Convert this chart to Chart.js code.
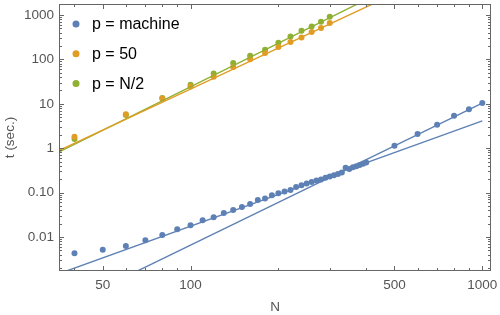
<!DOCTYPE html>
<html>
<head>
<meta charset="utf-8">
<script src="https://cdn.jsdelivr.net/npm/chart.js@4.4.0/dist/chart.umd.min.js"></script>
<style>
  html, body { margin: 0; padding: 0; background: #fff; }
  #wrap { width: 500px; height: 315px; }
</style>
</head>
<body>
<div id="wrap"><canvas id="chart" width="500" height="315"></canvas></div>
<script>
// timings
const machineN = [40, 50, 60, 70, 80, 90, 100, 110, 120, 130, 140, 150, 160, 170, 180, 190, 200,
  210, 220, 230, 240, 250, 260, 270, 280, 290, 300, 310, 320, 330, 340, 350, 360, 370, 380, 390, 400,
  500, 600, 700, 800, 900, 1000];
const machineT = [0.0043, 0.0051, 0.0062, 0.0084, 0.011, 0.0149, 0.0183, 0.0237, 0.0277, 0.0346,
  0.0404, 0.0473, 0.055, 0.068, 0.073, 0.087, 0.096, 0.105, 0.114, 0.134, 0.146, 0.159, 0.173,
  0.186, 0.196, 0.214, 0.229, 0.246, 0.263, 0.281, 0.363, 0.341, 0.369, 0.392, 0.420, 0.447, 0.478,
  1.13, 2.10, 3.36, 5.36, 7.59, 10.4];

const pN = [40, 60, 80, 100, 120, 140, 160, 180, 200, 220, 240, 260, 280, 300];
const p50T = [1.8, 5.8, 13.2, 24.5, 41, 68, 101, 139, 191, 248, 312, 418, 514, 663];
const pHalfT = [1.6, 5.6, 13.6, 26.8, 48, 83, 121, 166, 238, 330, 444, 556, 710, 920];

// fitted lines, end points
const machineFitAN = [60, 1000];
const machineFitAT = [0.00127, 10.4];
const machineFitBN = [35, 1000];
const machineFitBT = [0.00144, 4.13];
const p50FitN = [35, 450];
const p50FitT = [0.86, 2190];
const pHalfFitN = [35, 400];
const pHalfFitT = [0.79, 2230];

const xTicks = [50, 100, 500, 1000];
const yTicks = [0.01, 0.1, 1, 10, 100, 1000];
const yTickLabels = ["0.01", "0.10", "1", "10", "100", "1000"];

const BLUE = "#5E81B5", ORANGE = "#E19C24", GREEN = "#8FB032";
const FONT = "'Liberation Sans', Arial, sans-serif";

const pts = (xs, ys) => xs.map((x, i) => ({ x, y: ys[i] }));

function points(label, xs, ys, color) {
  return {
    label, data: pts(xs, ys), showLine: false, legend: true,
    pointRadius: 3, pointHoverRadius: 3, pointBackgroundColor: color, pointBorderWidth: 0,
    borderColor: color, backgroundColor: color
  };
}
function fit(xs, ys, color) {
  return {
    data: pts(xs, ys), showLine: true, pointRadius: 0, borderColor: color,
    borderWidth: 1.4, fill: false
  };
}

function noPad(s) {
  s.paddingTop = 0; s.paddingBottom = 0; s.paddingLeft = 0; s.paddingRight = 0;
}

const framePlugin = {
  id: "frame",
  afterDraw(chart) {
    const { ctx, chartArea: a, scales: { x, y } } = chart;
    ctx.save();
    ctx.strokeStyle = "#666";
    ctx.lineWidth = 1;
    ctx.strokeRect(Math.round(a.left) + 0.5, Math.round(a.top) + 0.5,
      Math.round(a.right - a.left) - 1, Math.round(a.bottom - a.top) - 1);
    ctx.beginPath();
    for (let k = 1; k <= 3; k++) {
      for (let d = 1; d <= 9; d++) {
        const v = d * Math.pow(10, k);
        if (v < x.min || v > x.max) continue;
        const len = (xTicks.includes(v) || d === 1) ? 5 : 3;
        const px = Math.round(x.getPixelForValue(v)) + 0.5;
        ctx.moveTo(px, a.bottom); ctx.lineTo(px, a.bottom - len);
        ctx.moveTo(px, a.top); ctx.lineTo(px, a.top + len);
      }
    }
    for (let k = -3; k <= 3; k++) {
      for (let d = 1; d <= 9; d++) {
        const v = d * Math.pow(10, k);
        if (v < y.min || v > y.max) continue;
        const len = d === 1 ? 5 : 3;
        const py = Math.round(y.getPixelForValue(v)) + 0.5;
        ctx.moveTo(a.left, py); ctx.lineTo(a.left + len, py);
        ctx.moveTo(a.right, py); ctx.lineTo(a.right - len, py);
      }
    }
    ctx.stroke();

    // legend
    const items = chart.data.datasets.filter(d => d.legend);
    ctx.font = "16px " + FONT;
    ctx.textBaseline = "middle";
    items.forEach((d, i) => {
      const cy = 24 + i * 29.7;
      ctx.fillStyle = d.borderColor;
      ctx.beginPath();
      ctx.arc(76, cy, 3.5, 0, Math.PI * 2);
      ctx.fill();
      ctx.fillStyle = "#000";
      ctx.fillText(d.label, 92, cy + 1);
    });
    ctx.restore();
  }
};

new Chart(document.getElementById("chart"), {
  type: "scatter",
  data: {
    datasets: [
      fit(machineFitAN, machineFitAT, BLUE),
      fit(machineFitBN, machineFitBT, BLUE),
      fit(p50FitN, p50FitT, ORANGE),
      fit(pHalfFitN, pHalfFitT, GREEN),
      points("p = machine", machineN, machineT, BLUE),
      points("p = 50", pN, p50T, ORANGE),
      points("p = N/2", pN, pHalfT, GREEN)
    ]
  },
  options: {
    responsive: false,
    animation: false,
    layout: { padding: { left: 0, right: 9, top: 4, bottom: 0 } },
    plugins: { legend: { display: false }, tooltip: { enabled: false } },
    scales: {
      x: {
        type: "logarithmic", min: 35.4, max: 1071,
        afterFit: s => { s.height = 44; noPad(s); },
        afterBuildTicks: s => { s.ticks = xTicks.map(v => ({ value: v })); },
        grid: { display: false, drawTicks: false },
        border: { display: false },
        ticks: {
          autoSkip: false, maxRotation: 0, padding: 6, color: "#555",
          font: { family: FONT, size: 13.5 },
          callback: v => String(v)
        },
        title: {
          display: true, text: "N", color: "#555", padding: 0,
          font: { family: FONT, size: 13.5 }
        }
      },
      y: {
        type: "logarithmic", min: 0.0017, max: 1781,
        afterFit: s => { s.width = 59; noPad(s); },
        afterBuildTicks: s => { s.ticks = yTicks.map(v => ({ value: v })); },
        grid: { display: false, drawTicks: false },
        border: { display: false },
        ticks: {
          autoSkip: false, padding: 5, color: "#555",
          font: { family: FONT, size: 13.5 },
          callback: v => yTickLabels[yTicks.indexOf(v)] ?? ""
        },
        title: {
          display: true, text: "t (sec.)", color: "#555", padding: { top: 2, bottom: 0 },
          font: { family: FONT, size: 13.5 }
        }
      }
    }
  },
  plugins: [framePlugin]
});
</script>
</body>
</html>
